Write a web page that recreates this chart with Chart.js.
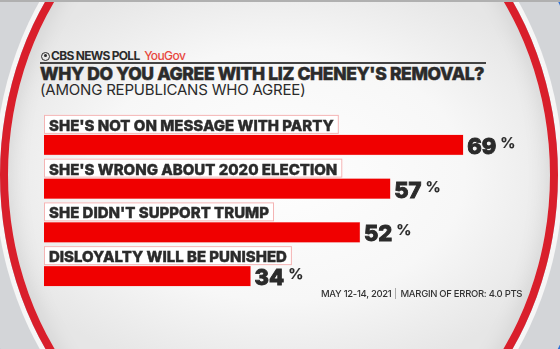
<!DOCTYPE html>
<html>
<head>
<meta charset="utf-8">
<script src="https://cdn.jsdelivr.net/npm/chart.js@4"></script>
<style>
  html, body { margin: 0; padding: 0; }
  body {
    width: 560px; height: 349px; overflow: hidden; position: relative;
    background: radial-gradient(ellipse 55% 60% at 50% 50%, #fefefe 0%, #f7f7f7 60%, #e6e6e6 100%);
    font-family: Inter, "Noto Sans", sans-serif; color: #2b2b2b;
  }
  #red {
    position: absolute; left: 0; top: -143px; width: 558px; height: 636px;
    box-sizing: border-box; border-radius: 50%; border: 8px solid #d91f2b;
    box-shadow: inset 0 0 24px rgba(0,0,0,0.11), 0 0 0 5px #f6f6f6, 0 0 0 40px #d3d5d8, 0 0 0 300px #2f6fd3;
  }
  #topline { position: absolute; left: 0; top: 0; width: 560px; height: 2px; background: #b0b0b0; }
  canvas { position: absolute; left: 0; top: 0; }
  .t { position: absolute; white-space: nowrap; }
  #logo { left: 41px; top: 48px; font-size: 12px; font-weight: 700; letter-spacing: -0.7px; }
  #logo .eye { display: inline-block; width: 9px; height: 9px; box-sizing: border-box; border: 1.6px solid #2b2b2b; border-radius: 50%; vertical-align: -0.5px; margin-right: 1px; position: relative; }
  #logo .eye:after { content: ""; position: absolute; left: 1.6px; top: 1.6px; width: 3px; height: 3px; background: #2b2b2b; border-radius: 50%; }
  #logo .yg { color: #e8473d; font-weight: 500; letter-spacing: -0.6px; margin-left: 2px; }
  #rule { position: absolute; left: 40px; top: 62px; width: 446px; height: 1.5px; background: #444; }
  #title { left: 40px; top: 63px; font-size: 17.5px; font-weight: 800; letter-spacing: -0.35px; -webkit-text-stroke: 0.5px #2b2b2b; }
  #sub { left: 40px; top: 80px; font-size: 15px; font-weight: 400; letter-spacing: -0.2px; }
  #foot { left: 321px; top: 288px; font-size: 9.5px; font-weight: 500; letter-spacing: -0.3px; color: #333; }
  #foot .sep { display: inline-block; width: 1px; height: 11px; background: #aaa; margin: 0 4px; vertical-align: -2px; }
</style>
</head>
<body>
<div id="red"></div>
<div id="topline"></div>
<div id="logo" class="t"><span class="eye"></span>CBS NEWS POLL<span class="yg"> YouGov</span></div>
<div id="rule"></div>
<div id="title" class="t">WHY DO YOU AGREE WITH LIZ CHENEY'S REMOVAL?</div>
<div id="sub" class="t">(AMONG REPUBLICANS WHO AGREE)</div>
<canvas id="myChart" width="560" height="349"></canvas>
<div id="foot" class="t">MAY 12-14, 2021<span class="sep"></span>MARGIN OF ERROR: 4.0 PTS</div>
<script>
const categories = ["SHE'S NOT ON MESSAGE WITH PARTY", "SHE'S WRONG ABOUT 2020 ELECTION", "SHE DIDN'T SUPPORT TRUMP", "DISLOYALTY WILL BE PUNISHED"];
const values = [69, 57, 52, 34];

const labelPlugin = {
  id: 'boxLabels',
  afterDatasetsDraw(chart) {
    const ctx = chart.ctx;
    const meta = chart.getDatasetMeta(0);
    ctx.save();
    meta.data.forEach(function(bar, i) {
      const top = bar.y - bar.height / 2;
      // category label sits in a white box just above its bar
      ctx.font = '800 15px Inter';
      const w = ctx.measureText(categories[i]).width;
      ctx.fillStyle = '#ffffff';
      ctx.fillRect(bar.base, top - 20, w + 10, 19);
      ctx.strokeStyle = '#f4b4b4';
      ctx.lineWidth = 1;
      ctx.strokeRect(bar.base + 0.5, top - 19.5, w + 9, 18);
      ctx.fillStyle = '#2b2b2b';
      ctx.strokeStyle = '#2b2b2b';
      ctx.lineWidth = 0.4;
      ctx.fillText(categories[i], bar.base + 5, top - 4);
      ctx.strokeText(categories[i], bar.base + 5, top - 4);
      // value + small percent sign
      ctx.font = '800 22px Inter';
      const num = String(values[i]);
      const nw = ctx.measureText(num).width;
      ctx.lineWidth = 0.9;
      ctx.fillText(num, bar.x + 4, bar.y + 9);
      ctx.strokeText(num, bar.x + 4, bar.y + 9);
      ctx.font = '700 15px Inter';
      ctx.lineWidth = 0.2;
      ctx.fillText('%', bar.x + 4 + nw + 4, bar.y + 3);
      ctx.strokeText('%', bar.x + 4 + nw + 4, bar.y + 3);
    });
    ctx.restore();
  }
};

const ctx = document.getElementById('myChart').getContext('2d');
new Chart(ctx, {
  type: 'bar',
  data: {
    labels: categories,
    datasets: [{
      data: values,
      backgroundColor: '#f00000',
      borderColor: '#f6a0a0',
      borderWidth: 0.5,
      barThickness: 20
    }]
  },
  options: {
    indexAxis: 'y',
    responsive: false,
    animation: false,
    events: [],
    layout: { padding: { left: 44, right: 30, top: 123, bottom: 51 } },
    plugins: { legend: { display: false }, tooltip: { enabled: false } },
    scales: {
      x: { display: false, min: 0, max: 80 },
      y: { display: false }
    }
  },
  plugins: [labelPlugin]
});
</script>
</body>
</html>
